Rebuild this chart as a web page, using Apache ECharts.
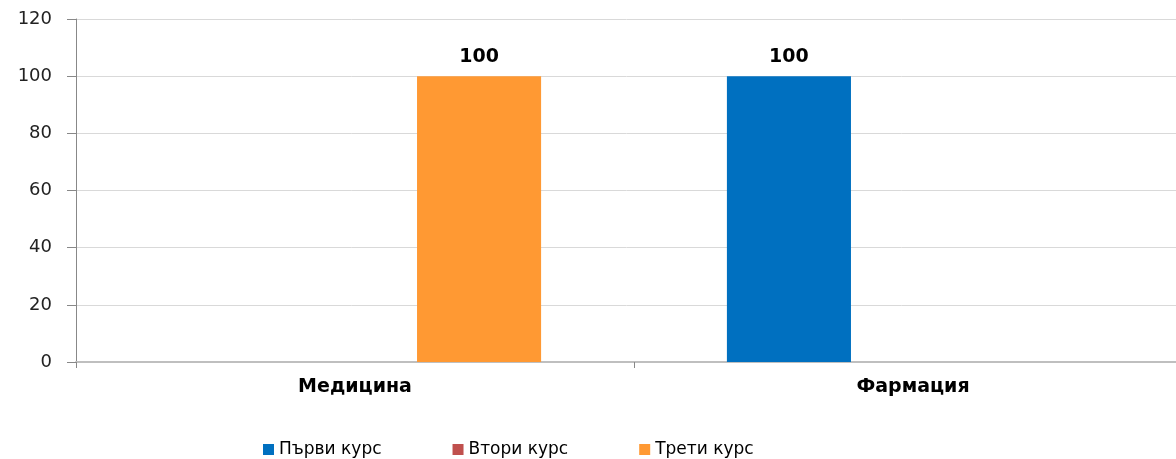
<!DOCTYPE html>
<html>
<head>
<meta charset="utf-8">
<script src="https://cdn.jsdelivr.net/npm/echarts@6/dist/echarts.min.js"></script>
<style>
  html, body { margin: 0; padding: 0; background: #fff; }
  #chart { width: 1176px; height: 459px; }
</style>
</head>
<body>
<div id="chart"></div>
<script>
// categories and series values
let categories = ['Медицина', 'Фармация']
let seriesNames = ['Първи курс', 'Втори курс', 'Трети курс']
let firstYear = [null, 100]
let secondYear = [null, null]
let thirdYear = [100, null]
let colors = ['#0070C0', '#C0504D', '#FF9933']

let chart = echarts.init(document.getElementById('chart'))

let labelStyle = {
  show: true,
  position: 'top',
  distance: 10,
  fontFamily: 'DejaVu Sans',
  fontWeight: 'bold',
  fontSize: 19,
  color: '#000'
}

let option = {
  animation: false,
  color: colors,
  grid: {
    left: 76,
    top: 19,
    height: 343,
    width: 1116,  // plot runs a bit past the right edge of the picture
    outerBoundsMode: 'none'
  },
  legend: {
    top: 436,
    left: 258,
    itemWidth: 11,
    itemHeight: 11,
    itemGap: 71,
    icon: 'rect',
    textStyle: {
      fontFamily: 'DejaVu Sans',
      fontSize: 17,
      color: '#000'
    },
    data: seriesNames
  },
  xAxis: {
    type: 'category',
    data: categories,
    axisLine: {lineStyle: {color: '#BFBFBF', width: 2}},
    axisTick: {show: true, length: 6, lineStyle: {color: '#888'}},
    axisLabel: {
      margin: 16,
      fontFamily: 'DejaVu Sans',
      fontWeight: 'bold',
      fontSize: 19,
      color: '#000'
    }
  },
  yAxis: {
    type: 'value',
    min: 0,
    max: 120,
    interval: 20,
    axisLine: {show: true, lineStyle: {color: '#888'}},
    axisTick: {show: true, length: 9, lineStyle: {color: '#888'}},
    splitLine: {lineStyle: {color: '#D9D9D9'}},
    axisLabel: {
      margin: 24,
      fontFamily: 'DejaVu Sans',
      fontSize: 18,
      color: '#222'
    }
  },
  series: [
    {name: seriesNames[0], type: 'bar', data: firstYear, barGap: '0%', barCategoryGap: '33.3%', label: labelStyle},
    {name: seriesNames[1], type: 'bar', data: secondYear, barGap: '0%', barCategoryGap: '33.3%', label: labelStyle},
    {name: seriesNames[2], type: 'bar', data: thirdYear, barGap: '0%', barCategoryGap: '33.3%', label: labelStyle}
  ]
}
chart.setOption(option, true)
</script>
</body>
</html>
